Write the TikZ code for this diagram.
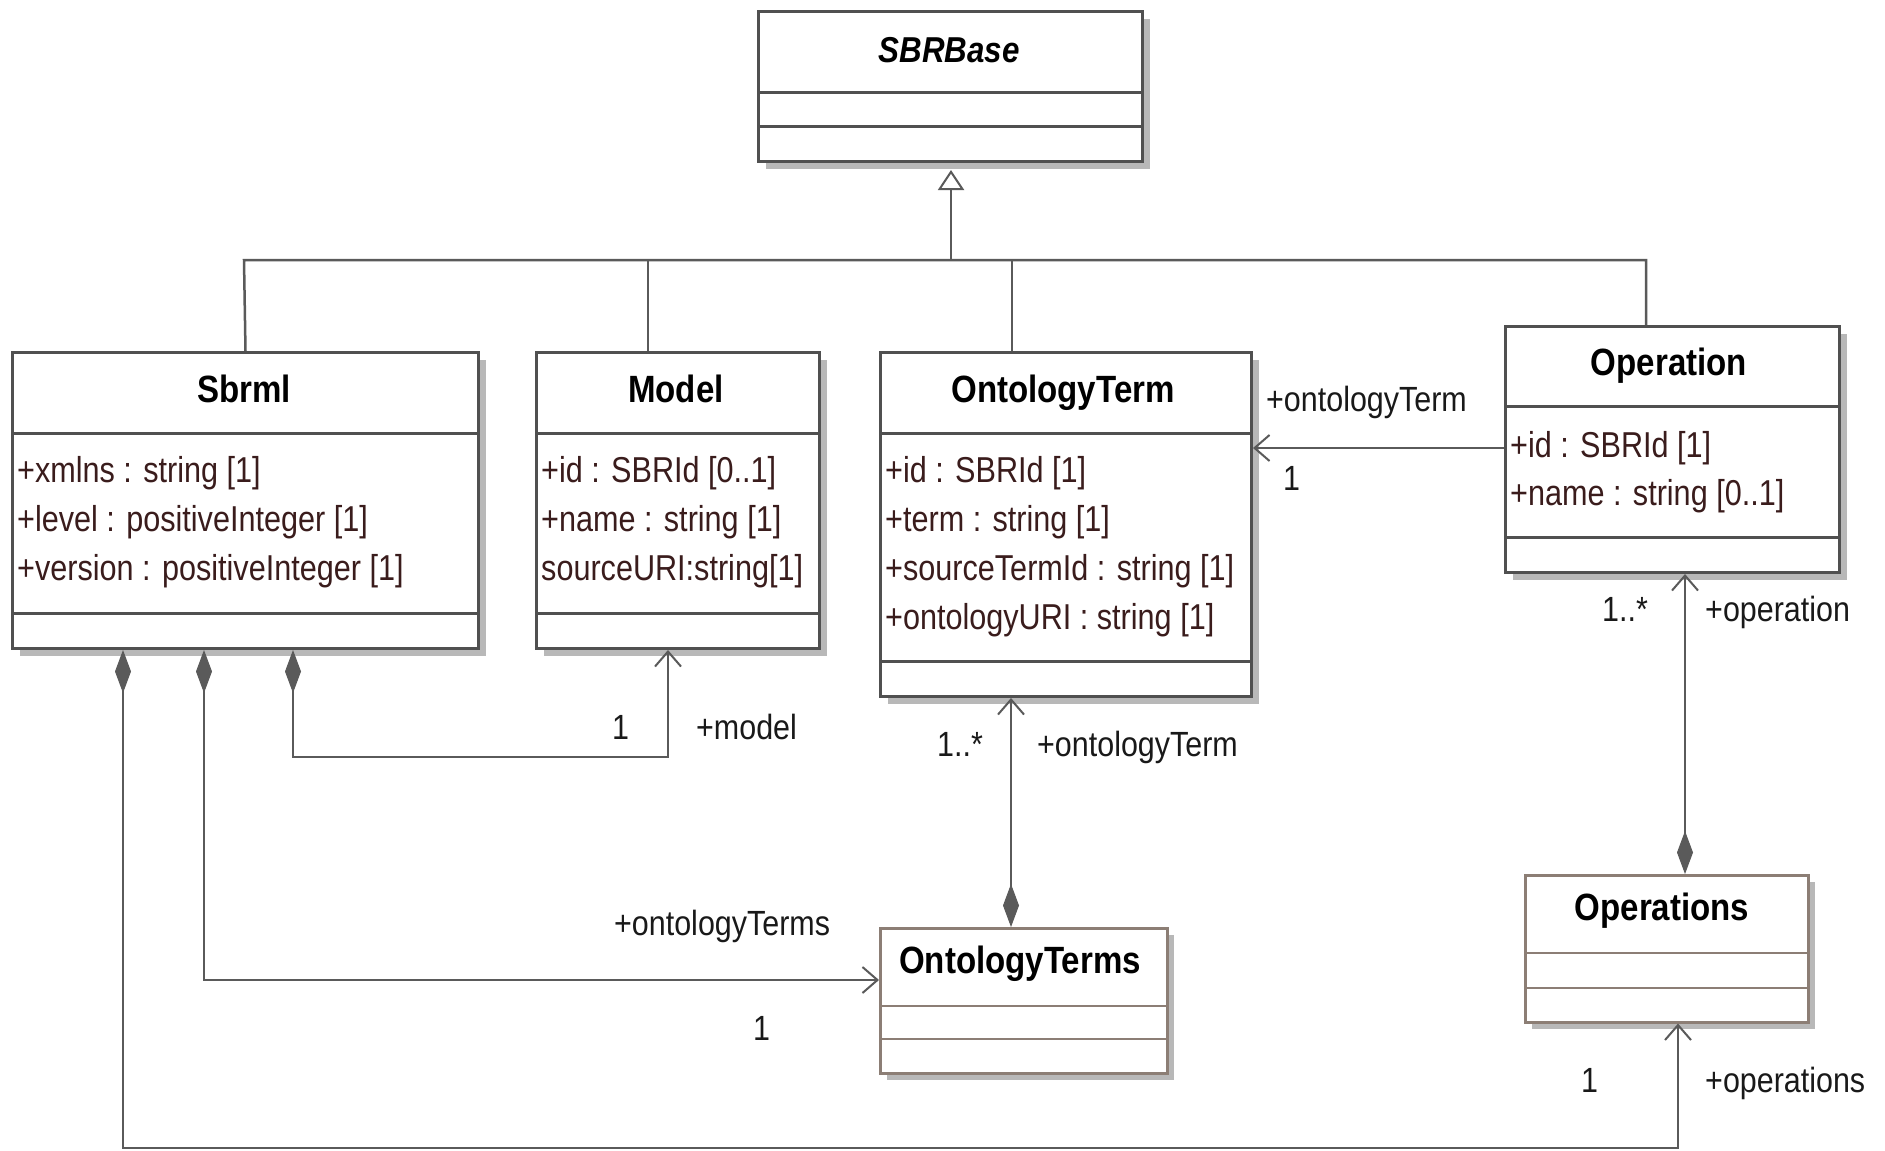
\documentclass[tikz,border=0pt]{standalone}
\usepackage{fontspec}
\usetikzlibrary{arrows.meta,shadows}
\newfontfamily\umlfont{Liberation Sans}[FakeStretch=0.87]
\newfontfamily\attrfont{Liberation Sans}[FakeStretch=0.85]
\definecolor{bordergray}{HTML}{505050}
\definecolor{linegray}{HTML}{5A5A5A}
\definecolor{brownb}{HTML}{8C7E75}
\definecolor{attrcol}{HTML}{3A1C1C}
\definecolor{shadowc}{HTML}{B8B8B8}
\begin{document}
\begin{tikzpicture}[x=1pt,y=-1pt,
  cls/.style={draw=bordergray, line width=3pt, fill=white, inner sep=0pt, anchor=north west,
    drop shadow={shadow xshift=7pt, shadow yshift=-7pt, fill=shadowc, opacity=1}},
  clsb/.style={cls, draw=brownb, line width=2.5pt},
  divl/.style={draw=bordergray, line width=3pt},
  divb/.style={draw=brownb, line width=2.5pt},
  ttl/.style={font=\umlfont\bfseries\fontsize{38}{44}\selectfont, text=black, inner sep=0pt, anchor=base},
  attr/.style={font=\attrfont\fontsize{36}{42}\selectfont, text=attrcol, inner sep=0pt, anchor=base west},
  lbl/.style={font=\umlfont\fontsize{35}{40}\selectfont, text=black!90, inner sep=0pt, anchor=base west},
  conn/.style={draw=linegray, line width=2.5pt},
  nav/.style={conn, -{Straight Barb[length=15pt,width=26pt,line width=2pt]}},
  comp/.style={conn, {Diamond[length=43pt,width=16pt,fill=linegray,line width=1pt]}-{Straight Barb[length=15pt,width=26pt,line width=2pt]}},
  gen/.style={conn, -{Triangle[open,length=20pt,width=26pt,line width=2pt,fill=white]}}
]
\fill[white] (0,0) rectangle (1885,1151);
\useasboundingbox (0,0) rectangle (1885,1151);

% ---------- class boxes ----------
\node[cls, minimum width=384pt, minimum height=150pt] (base) at (757,10) {};
\draw[divl] (base.west |- 0,92) -- (base.east |- 0,92);
\draw[divl] (base.west |- 0,126) -- (base.east |- 0,126);
\node[ttl, font=\umlfont\bfseries\itshape\fontsize{36}{42}\selectfont] (baset) at (949,62) {SBRBase};

\node[cls, minimum width=466pt, minimum height=296pt] (sbrml) at (11,351) {};
\draw[divl] (sbrml.west |- 0,433) -- (sbrml.east |- 0,433);
\draw[divl] (sbrml.west |- 0,613) -- (sbrml.east |- 0,613);
\node[ttl] (sbrmlt) at (244,402) {Sbrml};
\node[attr] (sa1) at (17,482) {+xmlns : string [1]};
\node[attr] (sa2) at (17,531) {+level : positiveInteger [1]};
\node[attr] (sa3) at (17,580) {+version : positiveInteger [1]};

\node[cls, minimum width=283pt, minimum height=296pt] (model) at (535,351) {};
\draw[divl] (model.west |- 0,433) -- (model.east |- 0,433);
\draw[divl] (model.west |- 0,613) -- (model.east |- 0,613);
\node[ttl] (modelt) at (676,402) {Model};
\node[attr] (ma1) at (541,482) {+id : SBRId [0..1]};
\node[attr] (ma2) at (541,531) {+name : string [1]};
\node[attr] (ma3) at (541,580) {sourceURI:string[1]};

\node[cls, minimum width=371pt, minimum height=344pt] (ot) at (879,351) {};
\draw[divl] (ot.west |- 0,433) -- (ot.east |- 0,433);
\draw[divl] (ot.west |- 0,661) -- (ot.east |- 0,661);
\node[ttl] (ott) at (1063,402) {OntologyTerm};
\node[attr] (oa1) at (885,482) {+id : SBRId [1]};
\node[attr] (oa2) at (885,531) {+term : string [1]};
\node[attr] (oa3) at (885,580) {+sourceTermId : string [1]};
\node[attr] (oa4) at (885,629) {+ontologyURI : string [1]};

\node[cls, minimum width=334pt, minimum height=246pt] (op) at (1504,325) {};
\draw[divl] (op.west |- 0,406) -- (op.east |- 0,406);
\draw[divl] (op.west |- 0,537) -- (op.east |- 0,537);
\node[ttl] (opt) at (1669,375) {Operation};
\node[attr] (pa1) at (1510,457) {+id : SBRId [1]};
\node[attr] (pa2) at (1510,505) {+name : string [0..1]};

\node[clsb, minimum width=287pt, minimum height=145pt] (ots) at (879,927) {};
\draw[divb] (ots.west |- 0,1006) -- (ots.east |- 0,1006);
\draw[divb] (ots.west |- 0,1039) -- (ots.east |- 0,1039);
\node[ttl] (otst) at (1020,973) {OntologyTerms};

\node[clsb, minimum width=283pt, minimum height=147pt] (ops) at (1524,874) {};
\draw[divb] (ops.west |- 0,953) -- (ops.east |- 0,953);
\draw[divb] (ops.west |- 0,988) -- (ops.east |- 0,988);
\node[ttl] (opst) at (1662,920) {Operations};

% ---------- generalization ----------
\coordinate (gj) at (951,260);
\coordinate (hL) at (244,260);
\coordinate (hR) at (1646,260);
\coordinate (xm) at (648,260);
\coordinate (xo) at (1012,260);
\draw[gen, shorten >=7pt] (gj) -- (base.south -| gj);
\draw[conn] (sbrml.north) -- (hL) -- (hR) -- (op.north -| hR);
\draw[conn] (xm) -- (model.north -| xm);
\draw[conn] (xo) -- (ot.north -| xo);

% ---------- associations ----------
\coordinate (ya) at (0,448);
\draw[nav] (op.west |- ya) -- (ot.east |- ya);
\node[lbl] (l1) at (1266,411) {+ontologyTerm};
\node[lbl] (l2) at (1283,490) {1};

\coordinate (xc) at (1011,0);
\draw[comp] (ots.north -| xc) -- (ot.south -| xc);
\node[lbl] (l3) at (937,756) {1..*};
\node[lbl] (l4) at (1037,756) {+ontologyTerm};

\coordinate (xd) at (1685,0);
\draw[comp] (ops.north -| xd) -- (op.south -| xd);
\node[lbl] (l5) at (1602,621) {1..*};
\node[lbl] (l6) at (1705,621) {+operation};

\coordinate (m1) at (293,757);
\coordinate (m2) at (668,757);
\draw[comp] (sbrml.south -| m1) -- (m1) -- (m2) -- (model.south -| m2);
\node[lbl] (l7) at (612,739) {1};
\node[lbl] (l8) at (696,739) {+model};

\coordinate (t1) at (204,980);
\draw[comp] (sbrml.south -| t1) -- (t1) -- (ots.west |- t1);
\node[lbl] (l9) at (614,935) {+ontologyTerms};
\node[lbl] (l10) at (753,1040) {1};

\coordinate (p1) at (123,1148);
\coordinate (p2) at (1678,1148);
\draw[comp] (sbrml.south -| p1) -- (p1) -- (p2) -- (ops.south -| p2);
\node[lbl] (l11) at (1581,1092) {1};
\node[lbl] (l12) at (1705,1092) {+operations};
\end{tikzpicture}
\end{document}
